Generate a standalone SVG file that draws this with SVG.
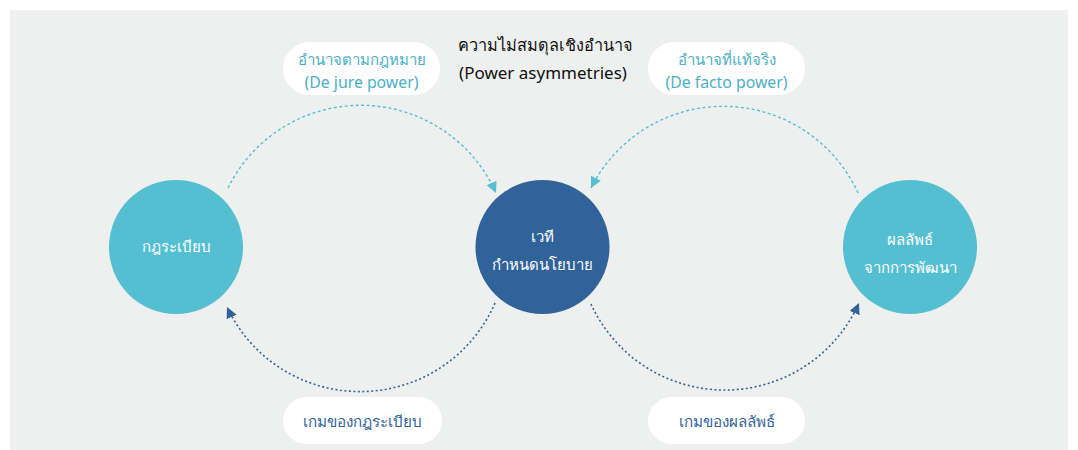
<svg xmlns="http://www.w3.org/2000/svg" width="1078" height="450" viewBox="0 0 1078 450">
<style>
text{font-family:"Noto Sans","Liberation Sans",sans-serif;text-anchor:middle}
.node-light{fill:#55bfd2}
.node-dark{fill:#30639a}
.ntext{fill:#ffffff;font-size:15px}
.pill{fill:#ffffff}
.ltext{fill:#4bb0c4;font-size:15px}
.ltext-en{fill:#4bb0c4;font-size:15.8px}
.dtext{fill:#30639a;font-size:15.2px}
.title{fill:#111111;font-size:16.3px}
.title-en{fill:#111111;font-size:17px}
.arc-light{fill:none;stroke:#55bfd2;stroke-width:1.4;stroke-dasharray:3 2.5}
.arc-dark{fill:none;stroke:#30639a;stroke-width:1.6;stroke-dasharray:2 2.5}
</style>
<defs>
<marker id="ah-light" markerUnits="userSpaceOnUse" markerWidth="11" markerHeight="11" refX="10" refY="5" orient="auto" viewBox="0 0 10 10">
<path d="M0,0 L10,5 L0,10 z" fill="#55bfd2"/>
</marker>
<marker id="ah-dark" markerUnits="userSpaceOnUse" markerWidth="11" markerHeight="11" refX="10" refY="5" orient="auto" viewBox="0 0 10 10">
<path d="M0,0 L10,5 L0,10 z" fill="#30639a"/>
</marker>
</defs>
<rect x="10" y="10" width="1058" height="440" fill="#eef0ef"/>
<g id="title">
<text class="title" x="545" y="51">ความไม่สมดุลเชิงอำนาจ</text>
<text class="title-en" x="543" y="79">(Power asymmetries)</text>
</g>
<g id="connectors">
<path class="arc-light" d="M228,188 A148,148 0 0 1 496,193" marker-end="url(#ah-light)"/>
<path class="arc-light" d="M858,193 A148,148 0 0 0 591,188" marker-end="url(#ah-light)"/>
<path class="arc-dark" d="M495,303 A147,147 0 0 1 227,307" marker-end="url(#ah-dark)"/>
<path class="arc-dark" d="M591,304 A147,147 0 0 0 859,303" marker-end="url(#ah-dark)"/>
</g>
<g id="label-dejure">
<rect class="pill" x="283" y="42" width="157" height="53" rx="26.5"/>
<text class="ltext" x="361.5" y="65">อำนาจตามกฎหมาย</text>
<text class="ltext-en" x="361.5" y="88">(De jure power)</text>
</g>
<g id="label-defacto">
<rect class="pill" x="648" y="42" width="157" height="53" rx="26.5"/>
<text class="ltext" x="726.5" y="65">อำนาจที่แท้จริง</text>
<text class="ltext-en" x="726.5" y="88">(De facto power)</text>
</g>
<g id="label-rules-game">
<rect class="pill" x="283" y="397" width="159" height="47" rx="23.5"/>
<text class="dtext" x="362.5" y="427">เกมของกฎระเบียบ</text>
</g>
<g id="label-outcome-game">
<rect class="pill" x="648" y="397" width="157" height="47" rx="23.5"/>
<text class="dtext" x="726.5" y="427">เกมของผลลัพธ์</text>
</g>
<g id="node-rules">
<circle class="node-light" cx="176" cy="247" r="67"/>
<text class="ntext" x="176" y="252">กฎระเบียบ</text>
</g>
<g id="node-policy">
<circle class="node-dark" cx="542.5" cy="247" r="67"/>
<text class="ntext" x="542.5" y="242">เวที</text>
<text class="ntext" x="542.5" y="270">กำหนดนโยบาย</text>
</g>
<g id="node-outcome">
<circle class="node-light" cx="910" cy="247" r="67"/>
<text class="ntext" x="910" y="245">ผลลัพธ์</text>
<text class="ntext" x="910" y="273">จากการพัฒนา</text>
</g>
</svg>
